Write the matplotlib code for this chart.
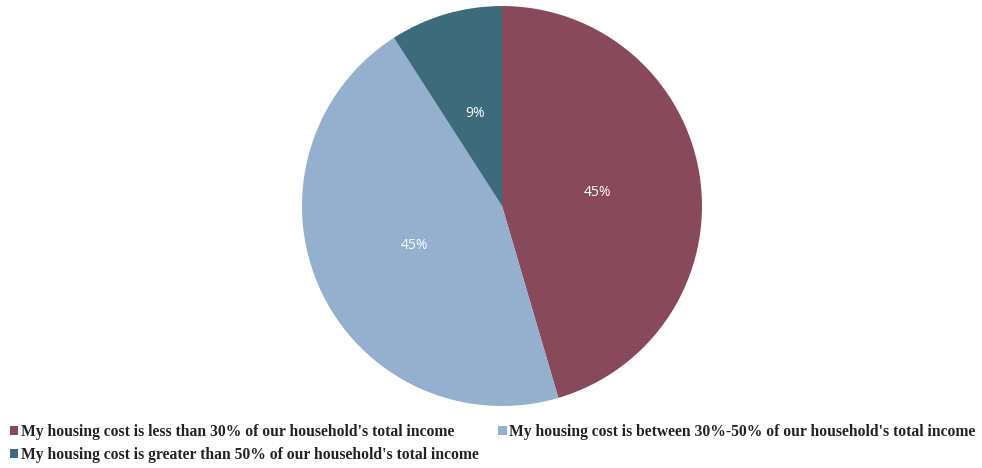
import matplotlib.pyplot as plt

labels = [
    "My housing cost is less than 30% of our household's total income",
    "My housing cost is between 30%-50% of our household's total income",
    "My housing cost is greater than 50% of our household's total income",
]
shares = [45, 45, 9]
colors = ['#884a5a', '#95afce', '#3e6b7c']

fig = plt.figure(figsize=(9.82, 4.68), dpi=100)
fig.patch.set_facecolor('white')

# pie sits in a square box, centre near (502, 206) px, radius 200 px
ax = fig.add_axes([302 / 982, 62 / 468, 400 / 982, 400 / 468])
wedges, _, pct_texts = ax.pie(
    shares, colors=colors, startangle=90, counterclock=False,
    autopct=lambda p: f'{p:.0f}%', pctdistance=0.48,
    wedgeprops=dict(linewidth=0),
    textprops=dict(color='white', fontsize=10, family='Open Sans'),
)
ax.set_xlim(-1, 1)
ax.set_ylim(-1, 1)
ax.set_aspect('equal')

# legend is filled column by column, so put the third entry second
order = [0, 2, 1]
leg = fig.legend(
    [wedges[i] for i in order], [labels[i] for i in order],
    ncol=2, loc='lower left', bbox_to_anchor=(5 / 982, 0.0), borderpad=0.3,
    borderaxespad=0.0, frameon=False, handlelength=0.55, handleheight=0.55,
    handletextpad=0.15, columnspacing=1.25, labelspacing=0.45,
    prop=dict(family='Liberation Serif', weight='bold', size=11.25),
)
for t in leg.get_texts():
    t.set_color('#222222')

fig.savefig('out.png', dpi=100)
